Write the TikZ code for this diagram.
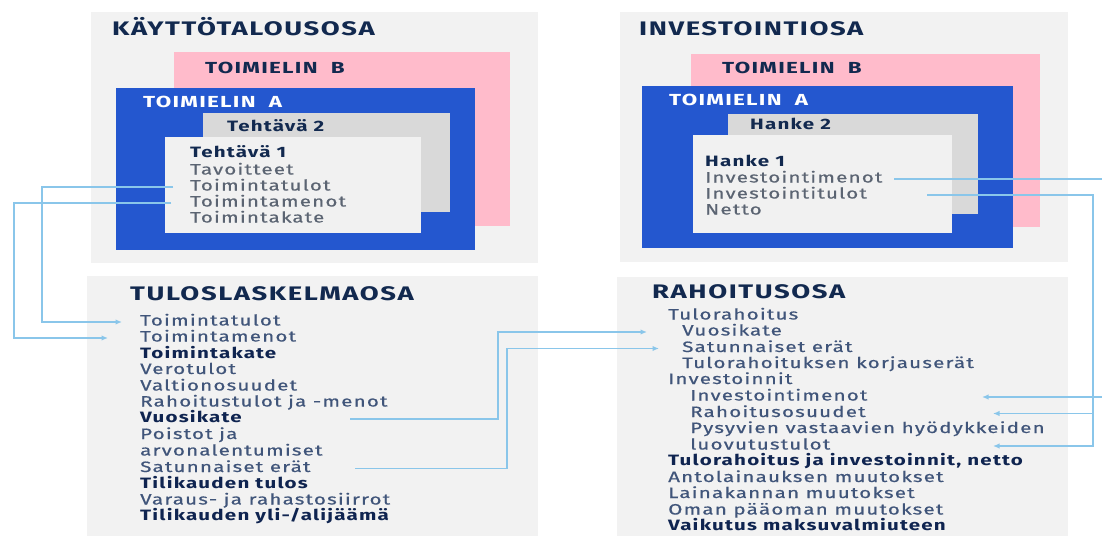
\documentclass[tikz,border=0pt]{standalone}
\usepackage{fontspec}
\setmainfont{Fira Sans}[FakeStretch=1.37,LetterSpace=8,UprightFeatures={FakeBold=0.6}]
\newfontfamily\hdfont{Fira Sans}[FakeStretch=1.4,LetterSpace=8]
\usetikzlibrary{arrows.meta}
\definecolor{panel}{HTML}{F2F2F2}
\definecolor{pinkB}{HTML}{FFBBCB}
\definecolor{blueA}{HTML}{2457CF}
\definecolor{grayT}{HTML}{D9D9D9}
\definecolor{lightT}{HTML}{F1F1F1}
\definecolor{navy}{HTML}{12294F}
\definecolor{boldnavy}{HTML}{0F2450}
\definecolor{itemgray}{HTML}{5B6472}
\definecolor{itemblue}{HTML}{40557A}
\definecolor{conncol}{HTML}{8AC6EA}
\tikzset{
  lbl/.style={anchor=west, inner sep=0pt, text height=10pt, text depth=3pt, font=\fontsize{15}{17}\selectfont},
  itg/.style={lbl, text=itemgray},
  itb/.style={lbl, text=itemblue},
  itbold/.style={lbl, text=boldnavy, font=\fontsize{15}{17}\selectfont\bfseries},
  subt/.style={lbl, text=navy, font=\fontsize{15}{17}\selectfont\bfseries},
  hd/.style={lbl, text=navy, text height=13pt, font=\hdfont\fontsize{19.6}{22}\selectfont\bfseries},
  tml/.style={lbl, font=\hdfont\fontsize{16}{18}\selectfont\bfseries},
  connline/.style={draw=conncol, line width=1.6pt},
  conn/.style={connline, -{Latex[length=6.5pt,width=5.5pt]}},
}
\begin{document}
\begin{tikzpicture}[x=1pt,y=-1pt]
\useasboundingbox (0,0) rectangle (1102,536);
\begin{scope}
\clip (0,0) rectangle (1102,536);
% ---------- KAYTTOTALOUSOSA ----------
\fill[panel] (91,12) rectangle (538,263);
\node[hd] (kt) at (112,30) {KÄYTTÖTALOUSOSA};
\fill[pinkB] (174,52) rectangle (510,226);
\node[tml, text=navy] (tbL) at (205,70) {TOIMIELIN\ \ B};
\fill[blueA] (116,88) rectangle (475,250);
\node[tml, text=white] (taL) at (143,104) {TOIMIELIN\ \ A};
\fill[grayT] (203,113) rectangle (450,212);
\node[subt] (t2) at (227,128) {Tehtävä 2};
\fill[lightT] (165,137) rectangle (421,233);
\node[subt] (t1) at (190,154) {Tehtävä 1};
\node[itg] (tav) at (190,171) {Tavoitteet};
\node[itg] (ttu) at (190,187) {Toimintatulot};
\node[itg] (tme) at (190,203) {Toimintamenot};
\node[itg] (tka) at (190,219) {Toimintakate};
% ---------- INVESTOINTIOSA ----------
\fill[panel] (620,12) rectangle (1068,262);
\node[hd] (io) at (639,30) {INVESTOINTIOSA};
\fill[pinkB] (691,54) rectangle (1040,227);
\node[tml, text=navy] (tbR) at (722,70) {TOIMIELIN\ \ B};
\fill[blueA] (642,86) rectangle (1013,248);
\node[tml, text=white] (taR) at (669,102) {TOIMIELIN\ \ A};
\fill[grayT] (728,114) rectangle (978,214);
\node[subt] (h2) at (750,126) {Hanke 2};
\fill[lightT] (693,135) rectangle (952,233);
\node[subt] (h1) at (705,163) {Hanke 1};
\node[itg] (him) at (705,179) {Investointimenot};
\node[itg] (hit) at (705,195) {Investointitulot};
\node[itg] (hne) at (705,211) {Netto};
% ---------- TULOSLASKELMAOSA ----------
\fill[panel] (87,276) rectangle (538,536);
\node[hd] (tl) at (130,295) {TULOSLASKELMAOSA};
\node[itb]    (btu) at (140,322) {Toimintatulot};
\node[itb]    (bme) at (140,338) {Toimintamenot};
\node[itbold] (bka) at (140,354.5) {Toimintakate};
\node[itb]    (bve) at (140,370.5) {Verotulot};
\node[itb]    (bva) at (140,387) {Valtionosuudet};
\node[itb]    (bra) at (140,403) {Rahoitustulot ja -menot};
\node[itbold] (bvk) at (140,419) {Vuosikate};
\node[itb]    (bpo) at (140,435.5) {Poistot ja};
\node[itb]    (bar) at (140,452) {arvonalentumiset};
\node[itb]    (bsa) at (140,468.5) {Satunnaiset erät};
\node[itbold] (btt) at (140,484.5) {Tilikauden tulos};
\node[itb]    (bvr) at (140,501) {Varaus- ja rahastosiirrot};
\node[itbold] (byl) at (140,517) {Tilikauden yli-/alijäämä};
% ---------- RAHOITUSOSA ----------
\fill[panel] (617,277) rectangle (1068,536);
\node[hd] (ro) at (652,293) {RAHOITUSOSA};
\node[itb]    (rtr) at (668,316) {Tulorahoitus};
\node[itb]    (rvk) at (682,332) {Vuosikate};
\node[itb]    (rsa) at (682,348.5) {Satunnaiset erät};
\node[itb]    (rko) at (682,364.5) {Tulorahoituksen korjauserät};
\node[itb]    (rin) at (668,380.5) {Investoinnit};
\node[itb]    (rim) at (690,397) {Investointimenot};
\node[itb]    (rro) at (690,413.5) {Rahoitusosuudet};
\node[itb]    (rpy) at (690,429.5) {Pysyvien vastaavien hyödykkeiden};
\node[itb]    (rlu) at (690,446) {luovutustulot};
\node[itbold] (rne) at (668,462) {Tulorahoitus ja investoinnit, netto};
\node[itb]    (ran) at (668,478.5) {Antolainauksen muutokset};
\node[itb]    (rla) at (668,494.5) {Lainakannan muutokset};
\node[itb]    (rom) at (668,511) {Oman pääoman muutokset};
\node[itbold] (rvm) at (668,527) {Vaikutus maksuvalmiuteen};
% ---------- routing columns ----------
\coordinate (colA) at (42,0);
\coordinate (colB) at (14,0);
\coordinate (tipA) at (122,0);
\coordinate (tipB) at (108,0);
\coordinate (srcV) at (350,0);
\coordinate (srcS) at (355,0);
\coordinate (colV) at (498,0);
\coordinate (colS) at (507,0);
\coordinate (tipV) at (647,0);
\coordinate (tipS) at (659,0);
\coordinate (srcM) at (894,0);
\coordinate (srcT) at (927,0);
\coordinate (colM) at (1116,0);
\coordinate (colT) at (1093,0);
\coordinate (tipM) at (982,0);
\coordinate (tipT) at (993,0);
% ---------- connectors ----------
\draw[conn] ([xshift=-17pt]ttu.west) -| (colA |- btu.west) -- (tipA |- btu.west);
\draw[conn] ([xshift=-19pt]tme.west) -| (colB |- bme.west) -- (tipB |- bme.west);
\draw[conn] (srcV |- bvk.west) -| (colV |- rvk.west) -- (tipV |- rvk.west);
\draw[conn] (srcS |- bsa.west) -| (colS |- rsa.west) -- (tipS |- rsa.west);
\draw[conn] (srcM |- him.west) -| (colM |- rim.west) -- (tipM |- rim.west);
\draw[conn] (srcT |- hit.west) -| (colT |- rlu.west) -- (tipT |- rlu.west);
\draw[conn] (colT |- rro.west) -- (tipT |- rro.west);
\end{scope}
\end{tikzpicture}
\end{document}
